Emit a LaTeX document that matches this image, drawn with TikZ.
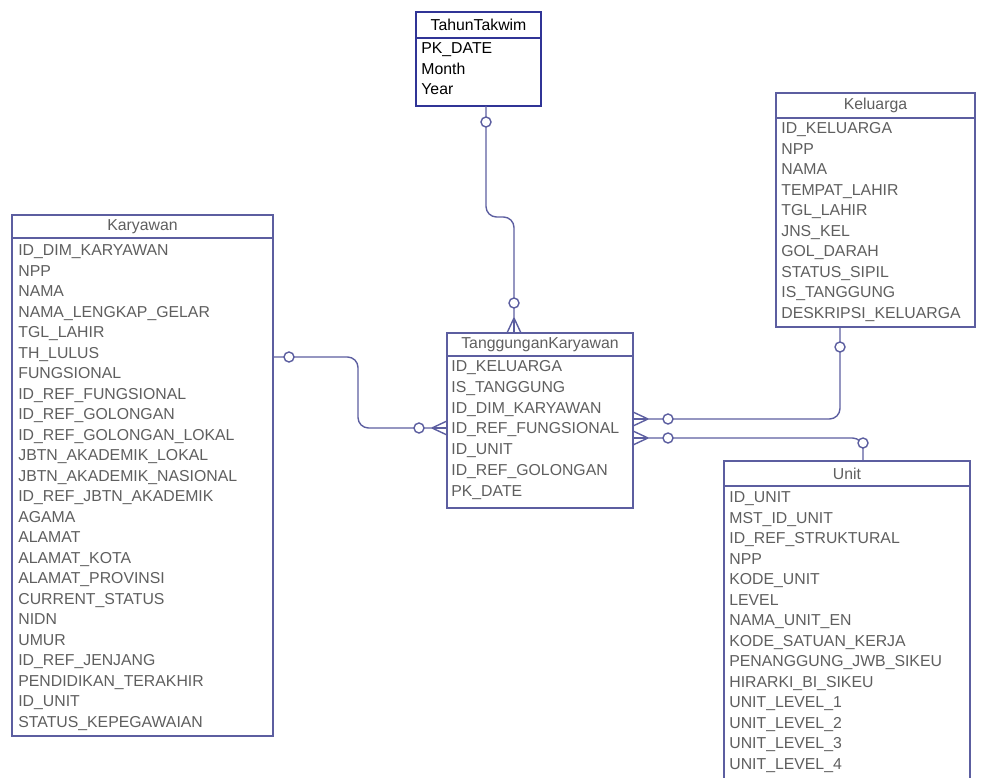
\documentclass[tikz,border=0pt]{standalone}
\usepackage{fontspec}
\setmainfont{Liberation Sans}
\usepackage{xcolor}
\usepackage{tikz}
\definecolor{erline}{RGB}{92,94,160}
\definecolor{erblue}{RGB}{48,52,150}
\definecolor{ertext}{RGB}{95,95,95}

\begin{document}
\begin{tikzpicture}[x=0.02cm, y=-0.02cm]
        % Styles
        \tikzstyle{tbl} = [rectangle, draw=erline, line width=0.8pt, fill=white, anchor=north west, inner sep=0, outer sep=0]
        \tikzstyle{hdr} = [rectangle, draw=erline, line width=0.8pt, fill=white, anchor=north, inner sep=0, outer sep=0, font=\fontsize{9}{10}\selectfont, text=ertext]
        \tikzstyle{attr} = [anchor=base west, inner sep=0, font=\fontsize{9}{10}\selectfont, text=ertext]
        \tikzstyle{rel} = [draw=erline, line width=0.8pt, rounded corners=6pt]
        \tikzstyle{foot} = [draw=erline, line width=0.8pt]
        \tikzstyle{opt} = [circle, draw=erline, line width=0.8pt, fill=white, inner sep=0, minimum size=0.2cm]

        \clip (0,0) rectangle (983,777);

        % Tables
        \node [tbl, draw=erblue, minimum width=2.5cm, minimum height=1.88cm] (tahun) at (416,12) {};
        \node [hdr, draw=erblue, text=black, minimum width=2.5cm, minimum height=0.52cm] (tahun-h) at (tahun.north) {TahunTakwim};
        \foreach \t [count=\i from 0] in {PK\_DATE, Month, Year}
            \node [attr, text=black] (tahun-\i) at (421,{53.5+20.5*\i}) {\t};

        \node [tbl, minimum width=3.98cm, minimum height=4.68cm] (kel) at (776,93) {};
        \node [hdr, minimum width=3.98cm, minimum height=0.5cm] (kel-h) at (kel.north) {Keluarga};
        \foreach \t [count=\i from 0] in {ID\_KELUARGA, NPP, NAMA, TEMPAT\_LAHIR, TGL\_LAHIR, JNS\_KEL, GOL\_DARAH, STATUS\_SIPIL, IS\_TANGGUNG, DESKRIPSI\_KELUARGA}
            \node [attr] (kel-\i) at (781,{133.5+20.5*\i}) {\t};

        \node [tbl, minimum width=5.22cm, minimum height=10.42cm] (kar) at (12,215) {};
        \node [hdr, minimum width=5.22cm, minimum height=0.46cm] (kar-h) at (kar.north) {Karyawan};
        \foreach \t [count=\i from 0] in {ID\_DIM\_KARYAWAN, NPP, NAMA, NAMA\_LENGKAP\_GELAR, TGL\_LAHIR, TH\_LULUS, FUNGSIONAL, ID\_REF\_FUNGSIONAL, ID\_REF\_GOLONGAN, ID\_REF\_GOLONGAN\_LOKAL, JBTN\_AKADEMIK\_LOKAL, JBTN\_AKADEMIK\_NASIONAL, ID\_REF\_JBTN\_AKADEMIK, AGAMA, ALAMAT, ALAMAT\_KOTA, ALAMAT\_PROVINSI, CURRENT\_STATUS, NIDN, UMUR, ID\_REF\_JENJANG, PENDIDIKAN\_TERAKHIR, ID\_UNIT, STATUS\_KEPEGAWAIAN}
            \node [attr] (kar-\i) at (18,{255.5+20.5*\i}) {\t};

        \node [tbl, minimum width=3.72cm, minimum height=3.5cm] (tang) at (447,333) {};
        \node [hdr, minimum width=3.72cm, minimum height=0.46cm] (tang-h) at (tang.north) {TanggunganKaryawan};
        \foreach \t [count=\i from 0] in {ID\_KELUARGA, IS\_TANGGUNG, ID\_DIM\_KARYAWAN, ID\_REF\_FUNGSIONAL, ID\_UNIT, ID\_REF\_GOLONGAN, PK\_DATE}
            \node [attr] (tang-\i) at (451,{371.5+20.8*\i}) {\t};

        \node [tbl, minimum width=4.92cm, minimum height=6.8cm] (unit) at (724,461) {};
        \node [hdr, minimum width=4.92cm, minimum height=0.5cm] (unit-h) at (unit.north) {Unit};
        \foreach \t [count=\i from 0] in {ID\_UNIT, MST\_ID\_UNIT, ID\_REF\_STRUKTURAL, NPP, KODE\_UNIT, LEVEL, NAMA\_UNIT\_EN, KODE\_SATUAN\_KERJA, PENANGGUNG\_JWB\_SIKEU, HIRARKI\_BI\_SIKEU, UNIT\_LEVEL\_1, UNIT\_LEVEL\_2, UNIT\_LEVEL\_3, UNIT\_LEVEL\_4}
            \node [attr] (unit-\i) at (729,{502.5+20.5*\i}) {\t};

        % Relationships
        \coordinate (f1) at ([xshift=-0.52cm]tang.north);
        \coordinate (f2) at ([yshift=-0.15cm]tang.west);
        \coordinate (f3) at ([yshift=0.03cm]tang.east);
        \coordinate (f4) at ([yshift=-0.35cm]tang.east);

        \path [rel] ([xshift=0.15cm]tahun.south) -- (486,217) -- (514,217) -- (f1);
        \path [rel] ([yshift=2.37cm]kar.east) -- (358,357) -- (358,428) -- (f2);
        \path [rel] ([xshift=-0.71cm]kel.south) -- (840,419) -- (f3);
        \path [rel] (f4) -- (863,438) -- ([xshift=0.32cm]unit.north);

        % Crow's feet
        \foreach \d in {-7,0,7} {
            \draw [foot] (f1) ++(\d,0) -- ++(-\d,-15);
            \draw [foot] (f2) ++(0,\d) -- ++(-15,-\d);
            \draw [foot] (f3) ++(0,\d) -- ++(15,-\d);
            \draw [foot] (f4) ++(0,\d) -- ++(15,-\d);
        }

        % Optional markers
        \node [opt] (o1) at (486,122) {};
        \node [opt] (o2) at (514,303) {};
        \node [opt] (o3) at (289,357) {};
        \node [opt] (o4) at (419,428) {};
        \node [opt] (o5) at (840,347) {};
        \node [opt] (o6) at (668,419) {};
        \node [opt] (o7) at (668,438) {};
        \node [opt] (o8) at (863,443) {};
\end{tikzpicture}
\end{document}
